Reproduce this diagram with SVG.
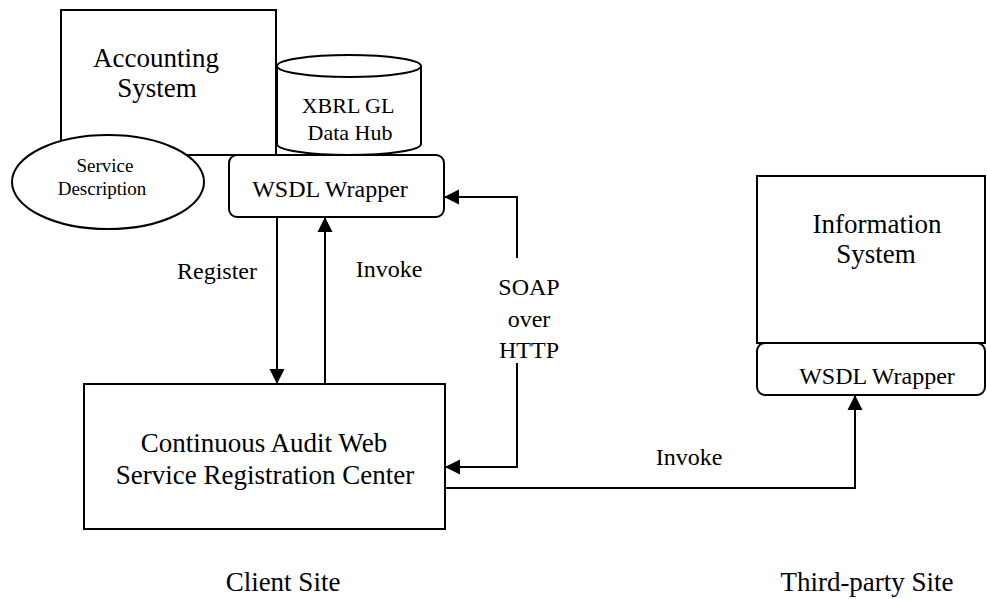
<svg xmlns="http://www.w3.org/2000/svg" width="987" height="599" viewBox="0 0 987 599">
  <style>
    .box { fill: #fff; stroke: #000; stroke-width: 2; }
    .wire { fill: none; stroke: #000; stroke-width: 2; }
    text { font-family: "Liberation Serif", "Times New Roman", serif; fill: #000; text-anchor: middle; }
    .big { font-size: 27px; }
    .mid { font-size: 24px; }
    .hub { font-size: 22px; }
    .small { font-size: 19px; }
  </style>
  <defs>
    <marker id="arrow" markerUnits="userSpaceOnUse" markerWidth="16" markerHeight="16" viewBox="0 0 16 16" refX="15" refY="8" orient="auto">
      <path d="M0,0.5 L15,8 L0,15.5 Z" fill="#000"/>
    </marker>
  </defs>

  <!-- Client site -->
  <g id="accounting-system">
    <rect class="box" x="61" y="10" width="215" height="145"/>
    <text class="big" x="156" y="67">Accounting</text>
    <text class="big" x="157" y="97">System</text>
  </g>

  <g id="xbrl-gl-data-hub">
    <path class="box" d="M277,66 V144 A72,11 0 0 0 421,144 V66"/>
    <ellipse class="box" cx="349" cy="66" rx="72" ry="11"/>
    <text class="hub" x="348" y="113">XBRL GL</text>
    <text class="hub" x="350" y="140">Data Hub</text>
  </g>

  <g id="service-description">
    <ellipse class="box" cx="108" cy="182" rx="96" ry="47"/>
    <text class="small" x="105" y="172">Service</text>
    <text class="small" x="102" y="195">Description</text>
  </g>

  <g id="client-wsdl-wrapper">
    <rect class="box" x="229" y="155" width="215" height="62" rx="8" ry="8"/>
    <text class="mid" x="330" y="197">WSDL Wrapper</text>
  </g>

  <g id="registration-center">
    <rect class="box" x="84" y="384" width="361" height="145"/>
    <text class="big" x="264" y="452">Continuous Audit Web</text>
    <text class="big" x="265" y="484">Service Registration Center</text>
  </g>

  <!-- Third-party site -->
  <g id="information-system">
    <rect class="box" x="757" y="176" width="228" height="167"/>
    <text class="big" x="877" y="233">Information</text>
    <text class="big" x="876" y="263">System</text>
  </g>

  <g id="third-party-wsdl-wrapper">
    <rect class="box" x="757" y="343" width="228" height="52" rx="8" ry="8"/>
    <text class="mid" x="877" y="384">WSDL Wrapper</text>
  </g>

  <g id="connectors">
    <!-- Register: wrapper to registration center -->
    <path class="wire" d="M277,217 V384" marker-end="url(#arrow)"/>
    <!-- Invoke: registration center to wrapper -->
    <path class="wire" d="M325,384 V217" marker-end="url(#arrow)"/>
    <!-- SOAP over HTTP, both directions -->
    <path class="wire" d="M517,258 V197 H444" marker-end="url(#arrow)"/>
    <path class="wire" d="M517,363 V467 H445" marker-end="url(#arrow)"/>
    <!-- Invoke: registration center to third-party wrapper -->
    <path class="wire" d="M445,488 H855 V395" marker-end="url(#arrow)"/>

    <text class="mid" x="217" y="279">Register</text>
    <text class="mid" x="389" y="277">Invoke</text>
    <text class="mid" x="529" y="295">SOAP</text>
    <text class="mid" x="529" y="327">over</text>
    <text class="mid" x="529" y="358">HTTP</text>
    <text class="mid" x="689" y="465">Invoke</text>
  </g>

  <g id="site-labels">
    <text class="big" x="283" y="591">Client Site</text>
    <text class="big" x="867" y="591">Third-party Site</text>
  </g>
</svg>
